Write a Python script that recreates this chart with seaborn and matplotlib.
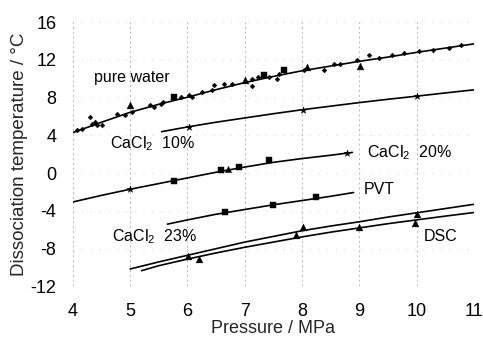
import matplotlib
matplotlib.use("Agg")
import matplotlib.pyplot as plt
import seaborn as sns
import numpy as np

# ---- data ----
# pure water fitted curve
water_curve_p = [4.0, 4.5, 5.0, 5.5, 6.0, 6.5, 7.0, 7.5, 8.0, 8.5, 9.0, 9.5, 10.0, 10.5, 11.0]
water_curve_t = [4.3, 5.4, 6.45, 7.3, 8.05, 8.85, 9.6, 10.25, 10.85, 11.35, 11.85, 12.3, 12.8, 13.25, 13.7]
# pure water measured points
water_dot_p = [4.07, 4.16, 4.30, 4.33, 4.39, 4.42, 4.51, 4.77, 4.91, 5.03, 5.35, 5.41, 5.53, 5.58,
               5.88, 6.02, 6.08, 6.26, 6.43, 6.46, 6.63, 6.78, 7.13, 7.13, 7.24, 7.42, 7.57, 7.59,
               8.03, 8.38, 8.56, 8.67, 8.96, 9.17, 9.34, 9.58, 9.78, 10.04, 10.28, 10.57, 10.77]
water_dot_t = [4.54, 4.72, 5.95, 5.25, 5.42, 5.07, 5.07, 6.30, 6.12, 6.47, 7.18, 7.0, 7.36, 7.53,
               8.06, 8.24, 8.06, 8.59, 8.76, 9.29, 9.47, 9.47, 10.0, 9.19, 10.17, 10.17, 10.0, 10.53,
               10.88, 10.88, 11.58, 11.58, 12.0, 12.53, 12.18, 12.57, 12.71, 12.92, 13.06, 13.23, 13.59]
water_tri_p = [5.00, 7.01, 8.09, 9.02]
water_tri_t = [7.18, 9.82, 11.22, 11.40]
water_sq_p = [5.76, 7.33, 7.68]
water_sq_t = [8.06, 10.45, 10.88]

# CaCl2 10 %
c10_curve_p = [5.55, 6.0, 6.5, 7.0, 7.5, 8.0, 8.5, 9.0, 9.5, 10.0, 10.5, 11.0]
c10_curve_t = [4.4, 4.9, 5.4, 5.85, 6.3, 6.72, 7.1, 7.48, 7.83, 8.16, 8.5, 8.83]
c10_pt_p = [6.02, 8.01, 10.01]
c10_pt_t = [4.89, 6.72, 8.16]

# CaCl2 20 %
c20_curve_p = [4.0, 4.5, 5.0, 5.5, 6.0, 6.5, 7.0, 7.5, 8.0, 8.5, 8.88]
c20_curve_t = [-3.05, -2.35, -1.7, -1.1, -0.5, 0.1, 0.65, 1.15, 1.55, 1.9, 2.2]
c20_star_p = [5.0, 8.79]
c20_star_t = [-1.69, 2.15]
c20_sq_p = [5.76, 6.58, 6.90, 7.42]
c20_sq_t = [-0.84, 0.32, 0.67, 1.35]
c20_tri_p = [6.71]
c20_tri_t = [0.39]

# CaCl2 23 %, PVT
pvt_curve_p = [5.65, 6.0, 6.5, 7.0, 7.5, 8.0, 8.5, 8.9]
pvt_curve_t = [-5.4, -4.95, -4.35, -3.85, -3.35, -2.9, -2.45, -2.05]
pvt_sq_p = [6.65, 7.49, 8.24]
pvt_sq_t = [-4.12, -3.38, -2.57]

# CaCl2 23 %, DSC (two curves)
dsc_up_curve_p = [5.0, 5.5, 6.0, 6.5, 7.0, 7.5, 8.0, 8.5, 9.0, 9.5, 10.0, 10.5, 11.0]
dsc_up_curve_t = [-10.15, -9.4, -8.7, -8.0, -7.3, -6.7, -6.1, -5.6, -5.15, -4.65, -4.2, -3.75, -3.3]
dsc_up_tri_p = [6.01, 8.02, 10.0]
dsc_up_tri_t = [-8.76, -5.70, -4.37]
dsc_lo_curve_p = [5.2, 5.5, 6.0, 6.5, 7.0, 7.5, 8.0, 8.5, 9.0, 9.5, 10.0, 10.5, 11.0]
dsc_lo_curve_t = [-10.33, -9.8, -9.1, -8.45, -7.85, -7.3, -6.75, -6.25, -5.8, -5.35, -4.95, -4.55, -4.17]
dsc_lo_tri_p = [6.21, 7.89, 9.0, 9.97]
dsc_lo_tri_t = [-9.08, -6.58, -5.72, -5.24]

x_ticks = [4, 5, 6, 7, 8, 9, 10, 11]
y_ticks = [-12, -8, -4, 0, 4, 8, 12, 16]

labels = ["pure water", "CaCl$_\\mathregular{2}$  10%", "CaCl$_\\mathregular{2}$  20%",
          "PVT", "CaCl$_\\mathregular{2}$  23%", "DSC"]
label_p = [4.36, 4.64, 9.14, 9.08, 4.68, 10.12]
label_t = [10.1, 3.1, 2.15, -1.72, -6.72, -6.72]

# ---- drawing ----
sns.set_theme(style="white")
plt.rcParams['font.family'] = ['Liberation Sans', 'DejaVu Sans']
plt.rcParams['mathtext.fontset'] = 'custom'
plt.rcParams['mathtext.rm'] = 'Liberation Sans'
plt.rcParams['mathtext.it'] = 'Liberation Sans:italic'

fig = plt.figure(figsize=(4.83, 3.41), dpi=100)
ax = fig.add_axes([0.151, 0.160, 0.830, 0.775])

line_kw = dict(color="black", linewidth=1.2, estimator=None, sort=False, legend=False)
for px, ty in [(water_curve_p, water_curve_t), (c10_curve_p, c10_curve_t),
               (c20_curve_p, c20_curve_t), (pvt_curve_p, pvt_curve_t),
               (dsc_up_curve_p, dsc_up_curve_t), (dsc_lo_curve_p, dsc_lo_curve_t)]:
    sns.lineplot(x=px, y=ty, ax=ax, **line_kw)

def pts(px, ty, marker, size):
    sns.scatterplot(x=px, y=ty, ax=ax, marker=marker, s=size, color="black",
                    edgecolor="black", linewidth=0.3, legend=False, zorder=3)

pts(water_dot_p, water_dot_t, "D", 6)
pts(water_tri_p, water_tri_t, "^", 24)
pts(water_sq_p, water_sq_t, "s", 20)
pts(c10_pt_p, c10_pt_t, "*", 26)
pts(c20_star_p, c20_star_t, "*", 26)
pts(c20_sq_p, c20_sq_t, "s", 18)
pts(c20_tri_p, c20_tri_t, "^", 20)
pts(pvt_sq_p, pvt_sq_t, "s", 18)
pts(dsc_up_tri_p, dsc_up_tri_t, "^", 24)
pts(dsc_lo_tri_p, dsc_lo_tri_t, "^", 24)

for txt, px, ty in zip(labels, label_p, label_t):
    ax.text(px, ty, txt, fontsize=11.5, ha="left", va="center", color="black")

ax.set_xlim(4, 11)
ax.set_ylim(-12, 16)
ax.set_xticks(x_ticks)
ax.set_yticks(y_ticks)
ax.set_xticklabels([str(v) for v in x_ticks])
ax.set_yticklabels([str(v) for v in y_ticks])
ax.tick_params(axis="both", length=0, labelsize=13, colors="black")
ax.tick_params(axis="x", pad=12)
ax.tick_params(axis="y", pad=12)
ax.set_xlabel("Pressure / MPa", fontsize=13, labelpad=0)
ax.set_ylabel("Dissociation temperature / °C", fontsize=13.5, labelpad=2)
ax.grid(True, axis="x", color="#b8b8b8", linestyle=(0, (2, 3)), linewidth=0.7)
ax.grid(True, axis="y", color="#d8d8d8", linestyle=(0, (1, 8)), linewidth=0.7)
for s in ax.spines.values():
    s.set_visible(False)

fig.savefig("out.png", dpi=100)
